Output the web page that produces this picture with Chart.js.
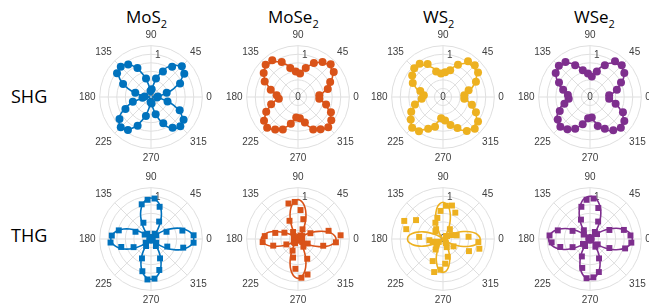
<!DOCTYPE html>
<html><head><meta charset="utf-8">
<script src="https://cdn.jsdelivr.net/npm/chart.js@4.4.0/dist/chart.umd.min.js"></script>
<style>
html,body{margin:0;padding:0;background:#fff;}
#wrap{position:relative;width:649px;height:306px;overflow:hidden;font-family:"Open Sans","Noto Sans",sans-serif;color:#000;}
.title{position:absolute;top:8px;font-size:17px;line-height:17px;white-space:nowrap;}
.title sub{font-size:11px;vertical-align:-5px;line-height:0;}
.row{position:absolute;left:11px;font-size:18px;line-height:18px;white-space:nowrap;}
canvas{position:absolute;}
</style></head>
<body><div id="wrap">
<div class="title" style="left:126px">MoS<sub>2</sub></div>
<div class="title" style="left:268px">MoSe<sub>2</sub></div>
<div class="title" style="left:423px">WS<sub>2</sub></div>
<div class="title" style="left:574px">WSe<sub>2</sub></div>
<div class="row" style="top:87px">SHG</div>
<div class="row" style="top:226px">THG</div>
<canvas id="c0"></canvas><canvas id="c1"></canvas><canvas id="c2"></canvas><canvas id="c3"></canvas>
<canvas id="c4"></canvas><canvas id="c5"></canvas><canvas id="c6"></canvas><canvas id="c7"></canvas>
</div>
<script>
// ---- categories / ticks ----
const materials = ['MoS2','MoSe2','WS2','WSe2'];
const angleTickLabels = [0,45,90,135,180,225,270,315];
const radialTickLabels = ['0','1'];
const fitAngles = Array.from({length:72},(_,i)=>i*5);      // 0..355 deg
const pointAngles = Array.from({length:36},(_,i)=>5+i*10); // 5..355 deg

// ---- SHG fitted curves (r at fitAngles) ----
const shgFitMoS2 = [0.03,0.11,0.26,0.41,0.56,0.70,0.82,0.91,0.96,0.98,0.96,0.91,0.82,0.70,0.56,0.41,0.26,0.11,
 0.03,0.11,0.26,0.41,0.57,0.71,0.84,0.93,0.98,1.00,0.98,0.93,0.84,0.71,0.57,0.41,0.26,0.11,
 0.03,0.11,0.26,0.41,0.56,0.70,0.83,0.92,0.97,0.99,0.97,0.92,0.83,0.70,0.56,0.41,0.26,0.11,
 0.03,0.11,0.26,0.41,0.56,0.70,0.82,0.90,0.95,0.97,0.95,0.90,0.82,0.70,0.56,0.41,0.26,0.11];
const shgFitMoSe2 = [0.47,0.53,0.60,0.68,0.77,0.85,0.93,0.99,1.02,1.04,1.02,0.99,0.93,0.86,0.78,0.70,0.64,0.59,
 0.55,0.60,0.66,0.73,0.81,0.88,0.95,1.00,1.03,1.04,1.02,0.98,0.91,0.83,0.74,0.64,0.55,0.48,
 0.42,0.48,0.55,0.63,0.72,0.81,0.89,0.95,0.98,1.00,0.98,0.95,0.89,0.81,0.73,0.64,0.56,0.50,
 0.45,0.51,0.57,0.65,0.73,0.81,0.88,0.94,0.97,0.98,0.97,0.94,0.88,0.81,0.73,0.65,0.58,0.52];
const shgFitWS2 = [0.48,0.54,0.60,0.67,0.75,0.83,0.90,0.96,0.99,1.00,0.99,0.96,0.90,0.83,0.75,0.68,0.61,0.55,
 0.50,0.55,0.60,0.66,0.73,0.80,0.86,0.90,0.92,0.93,0.92,0.89,0.84,0.77,0.69,0.61,0.55,0.49,
 0.45,0.51,0.57,0.65,0.73,0.81,0.88,0.94,0.97,0.98,0.97,0.94,0.88,0.81,0.74,0.65,0.57,0.51,
 0.46,0.52,0.58,0.66,0.74,0.83,0.90,0.96,0.99,1.00,0.99,0.96,0.90,0.83,0.75,0.67,0.60,0.53];
const shgFitWSe2 = [0.42,0.48,0.55,0.63,0.72,0.82,0.91,0.97,1.00,1.02,1.00,0.97,0.91,0.83,0.74,0.65,0.57,0.50,
 0.45,0.51,0.58,0.66,0.75,0.83,0.91,0.96,0.99,1.00,0.99,0.96,0.91,0.83,0.75,0.67,0.59,0.53,
 0.48,0.53,0.59,0.66,0.74,0.82,0.89,0.94,0.97,0.98,0.97,0.94,0.88,0.81,0.73,0.65,0.57,0.50,
 0.45,0.51,0.58,0.66,0.75,0.83,0.91,0.96,0.99,1.00,0.99,0.95,0.89,0.81,0.72,0.63,0.55,0.48];

// ---- THG fitted curves ----
const thgFitMoS2 = [1.00,0.98,0.93,0.84,0.73,0.59,0.44,0.28,0.12,0.00,0.12,0.27,0.42,0.57,0.70,0.81,0.89,0.94,
 0.96,0.94,0.89,0.81,0.70,0.57,0.42,0.27,0.12,0.00,0.11,0.26,0.41,0.55,0.68,0.79,0.87,0.92,
 0.94,0.92,0.87,0.79,0.68,0.55,0.41,0.26,0.11,0.00,0.11,0.26,0.41,0.55,0.68,0.79,0.87,0.92,
 0.94,0.92,0.87,0.79,0.68,0.55,0.41,0.26,0.11,0.00,0.12,0.28,0.44,0.59,0.73,0.84,0.93,0.98];
const thgFitMoSe2 = [0.89,0.86,0.79,0.67,0.52,0.37,0.22,0.10,0.03,0.00,0.03,0.11,0.23,0.38,0.54,0.69,0.81,0.89,
 0.92,0.89,0.81,0.69,0.54,0.38,0.23,0.11,0.03,0.00,0.03,0.10,0.22,0.36,0.50,0.65,0.76,0.83,
 0.86,0.83,0.76,0.65,0.50,0.36,0.22,0.10,0.03,0.00,0.03,0.11,0.23,0.38,0.54,0.69,0.81,0.89,
 0.92,0.89,0.81,0.69,0.54,0.38,0.23,0.11,0.03,0.00,0.03,0.10,0.22,0.37,0.52,0.67,0.79,0.86];
const thgFitWS2 = [0.87,0.84,0.77,0.65,0.51,0.36,0.22,0.10,0.03,0.00,0.03,0.10,0.21,0.36,0.50,0.64,0.76,0.83,
 0.86,0.83,0.76,0.64,0.50,0.36,0.21,0.10,0.03,0.00,0.02,0.10,0.21,0.34,0.49,0.62,0.73,0.81,
 0.83,0.81,0.73,0.62,0.49,0.34,0.21,0.10,0.02,0.00,0.02,0.09,0.20,0.32,0.46,0.58,0.69,0.76,
 0.78,0.76,0.69,0.58,0.46,0.32,0.20,0.09,0.02,0.00,0.03,0.10,0.22,0.36,0.51,0.65,0.77,0.84];
const thgFitWSe2 = [0.99,0.97,0.92,0.83,0.72,0.58,0.43,0.27,0.12,0.00,0.12,0.28,0.44,0.59,0.73,0.84,0.93,0.98,
 1.00,0.98,0.93,0.84,0.73,0.59,0.44,0.28,0.12,0.00,0.12,0.27,0.42,0.57,0.70,0.82,0.90,0.95,
 0.97,0.95,0.90,0.82,0.70,0.57,0.42,0.27,0.12,0.00,0.12,0.26,0.41,0.55,0.68,0.79,0.87,0.92,
 0.94,0.92,0.87,0.79,0.68,0.55,0.41,0.26,0.12,0.00,0.12,0.27,0.43,0.58,0.72,0.83,0.92,0.97];

// ---- measured points (r at pointAngles) ----
const shgPtsMoS2 = [0.16,0.38,0.75,0.95,1.02,0.86,0.66,0.45,0.18, 0.14,0.45,0.75,0.93,1.00,0.97,0.72,0.38,0.15,
 0.20,0.44,0.66,0.90,1.00,0.94,0.74,0.46,0.12, 0.15,0.42,0.68,0.88,0.97,0.93,0.74,0.40,0.14];
const shgPtsMoSe2 = [0.50,0.72,0.83,1.02,1.08,1.00,0.88,0.70,0.55, 0.60,0.70,0.90,1.05,1.07,0.98,0.86,0.66,0.50,
 0.45,0.65,0.82,0.97,1.02,0.93,0.84,0.65,0.48, 0.50,0.62,0.84,0.92,1.00,0.95,0.85,0.68,0.50];
const shgPtsWS2 = [0.50,0.62,0.85,1.00,1.05,1.02,0.83,0.65,0.58, 0.55,0.62,0.85,0.95,0.95,0.88,0.78,0.55,0.45,
 0.50,0.68,0.82,0.92,1.02,0.98,0.82,0.72,0.50, 0.55,0.68,0.80,0.97,1.05,1.00,0.85,0.70,0.50];
const shgPtsWSe2 = [0.45,0.65,0.80,0.98,1.05,1.02,0.82,0.62,0.48, 0.55,0.65,0.82,1.00,1.03,0.98,0.80,0.65,0.52,
 0.50,0.62,0.78,0.92,0.98,0.92,0.82,0.66,0.50, 0.48,0.70,0.82,0.95,1.02,0.98,0.85,0.62,0.45];
const thgPtsMoS2 = [1.00,0.76,0.40,0.15,0.05,0.15,0.45,0.78,0.95, 0.92,0.84,0.42,0.15,0.05,0.18,0.40,0.78,0.92,
 0.95,0.72,0.45,0.15,0.05,0.20,0.50,0.78,0.95, 0.93,0.75,0.50,0.20,0.05,0.15,0.42,0.78,1.00];
const thgPtsMoSe2 = [1.00,0.74,0.32,0.12,0.04,0.10,0.25,0.48,0.68, 0.87,0.86,0.47,0.20,0.05,0.12,0.35,0.55,0.78,
 0.83,0.60,0.30,0.12,0.05,0.12,0.30,0.45,0.70, 0.91,0.86,0.51,0.22,0.05,0.12,0.25,0.61,0.89];
const thgPtsWS2 = [0.60,0.33,0.22,0.12,0.10,0.28,0.68,0.81,0.78, 0.66,0.51,0.42,0.28,0.25,0.77,1.00,0.89,0.56,
 0.32,0.25,0.15,0.12,0.22,0.30,0.57,0.80,0.72, 0.58,0.43,0.21,0.12,0.08,0.30,0.67,0.88,0.83];
const thgPtsWSe2 = [0.95,0.82,0.50,0.20,0.05,0.20,0.45,0.75,0.95, 0.92,0.78,0.50,0.25,0.05,0.18,0.45,0.78,0.95,
 0.90,0.72,0.45,0.20,0.05,0.20,0.45,0.70,0.92, 0.90,0.80,0.50,0.22,0.05,0.22,0.50,0.85,0.97];

const colors = ['#0072BD','#D95319','#EDB120','#7E2F8E'];
const panels = [
  {fit:shgFitMoS2, pts:shgPtsMoS2, color:colors[0], style:'circle', cx:151, cy:97},
  {fit:shgFitMoSe2, pts:shgPtsMoSe2, color:colors[1], style:'circle', cx:298, cy:97},
  {fit:shgFitWS2, pts:shgPtsWS2, color:colors[2], style:'circle', cx:443, cy:97},
  {fit:shgFitWSe2, pts:shgPtsWSe2, color:colors[3], style:'circle', cx:590, cy:97},
  {fit:thgFitMoS2, pts:thgPtsMoS2, color:colors[0], style:'rect', cx:151, cy:239},
  {fit:thgFitMoSe2, pts:thgPtsMoSe2, color:colors[1], style:'rect', cx:298, cy:239},
  {fit:thgFitWS2, pts:thgPtsWS2, color:colors[2], style:'rect', cx:443, cy:239},
  {fit:thgFitWSe2, pts:thgPtsWSe2, color:colors[3], style:'rect', cx:590, cy:239}
];

// radar index i (clockwise from 3 o'clock) <-> math angle theta (counter-clockwise)
const N = 360;
const labels = Array.from({length:N},(_,i)=>(N - i) % N);
function toIndexed(angles, values){
  const arr = new Array(N).fill(null);
  angles.forEach((t,k)=>{ arr[(N - Math.round(t)) % N] = values[k]; });
  return arr;
}
const TARGET_R = 51;
const GRID = '#dfdfdf';
const LABEL_COLOR = '#404040';
const LABEL_FONT = {family:'"Liberation Sans", Arial, sans-serif', size:10};

const rTickPlugin = {
  id:'rTicks',
  beforeDatasetsDraw(chart){
    const s = chart.scales.r, ctx = chart.ctx;
    ctx.save();
    ctx.font = '10px "Liberation Sans", Arial, sans-serif';
    ctx.fillStyle = LABEL_COLOR;
    ctx.textAlign = 'center'; ctx.textBaseline = 'middle';
    const p = s.getPointPositionForValue((N - 81) % N, 1.0);
    ctx.fillText(radialTickLabels[1], p.x, p.y);
    ctx.fillText(radialTickLabels[0], s.xCenter, s.yCenter);
    ctx.restore();
  }
};

function makeConfig(p){
  return {
    type:'radar',
    data:{
      labels: labels,
      datasets:[
        {data: toIndexed(fitAngles, p.fit), borderColor:p.color, borderWidth:1.6, pointRadius:0,
         pointHoverRadius:0, tension:0.3, spanGaps:true, fill:false},
        {data: toIndexed(pointAngles, p.pts), showLine:false, borderWidth:0, pointStyle:p.style,
         pointRadius: p.style==='rect' ? 4.2 : 4, pointHoverRadius:4, pointBackgroundColor:p.color,
         pointBorderWidth:0, pointBorderColor:p.color, spanGaps:true, fill:false}
      ]
    },
    options:{
      responsive:false, animation:false, events:[],
      plugins:{legend:{display:false}, tooltip:{enabled:false}},
      scales:{ r:{
        min:0, max:1.2, startAngle:90,
        ticks:{display:false, stepSize:0.2},
        grid:{color:GRID, circular:true, lineWidth:1},
        angleLines:{color:GRID, lineWidth:(c)=> (labels[c.index] % 45 === 0 ? 1 : 0)},
        pointLabels:{
          color:LABEL_COLOR, font:LABEL_FONT, padding:4,
          callback:(lbl)=> angleTickLabels.includes(lbl) ? String(lbl) : ''
        }
      }}
    },
    plugins:[rTickPlugin]
  };
}

panels.forEach((p, k)=>{
  const cv = document.getElementById('c'+k);
  let w = 138, h = 134, chart = null;
  for (let it = 0; it < 5; it++) {
    cv.width = w; cv.height = h; cv.style.width = w+'px'; cv.style.height = h+'px';
    chart = new Chart(cv, makeConfig(p));
    const d = TARGET_R - chart.scales.r.drawingArea;
    if (Math.abs(d) < 0.5) break;
    chart.destroy();
    w = Math.round(w + 2*d); h = Math.round(h + 2*d);
  }
  const s = chart.scales.r;
  cv.style.left = (p.cx - s.xCenter) + 'px';
  cv.style.top = (p.cy - s.yCenter) + 'px';
});
</script>
</body></html>
